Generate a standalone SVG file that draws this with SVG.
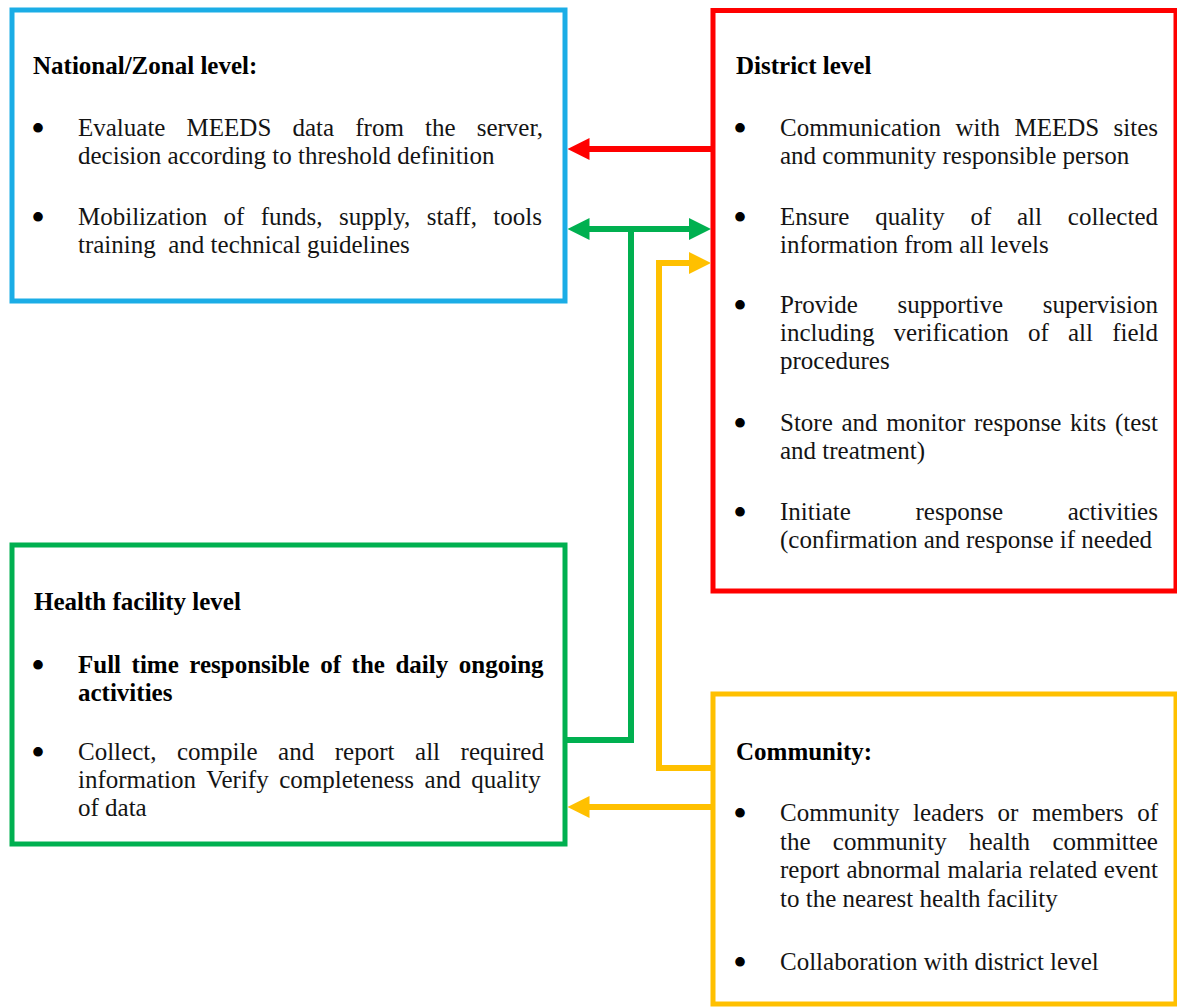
<svg xmlns="http://www.w3.org/2000/svg" width="1177" height="1007" viewBox="0 0 1177 1007">
<style>
text{font-family:"Liberation Serif","Times New Roman",serif;font-size:25px;fill:#141414}
.h{font-weight:bold;fill:#000}
.bu{text-anchor:middle;font-size:40px;fill:#000}
.box{fill:#fff;stroke-width:5}
.c{fill:none;stroke-width:6}
</style>
<defs>
<marker id="aR" markerUnits="userSpaceOnUse" markerWidth="22" markerHeight="22" refX="10" refY="11" orient="auto-start-reverse"><path d="M0,0 L22,11 L0,22 z" fill="#FF0000"/></marker>
<marker id="aG" markerUnits="userSpaceOnUse" markerWidth="22" markerHeight="22" refX="10" refY="11" orient="auto-start-reverse"><path d="M0,0 L22,11 L0,22 z" fill="#00B050"/></marker>
<marker id="aY" markerUnits="userSpaceOnUse" markerWidth="22" markerHeight="22" refX="10" refY="11" orient="auto-start-reverse"><path d="M0,0 L22,11 L0,22 z" fill="#FFC000"/></marker>
</defs>
<rect width="1177" height="1007" fill="#fff"/>

<g id="national">
<rect class="box" x="12" y="10" width="553" height="291" stroke="#1BADE6"/>
<text class="h" x="33" y="74">National/Zonal level:</text>
<text class="bu" x="38" y="142">•</text>
<text x="78" y="136" style="word-spacing:14.9px">Evaluate MEEDS data from the server,</text>
<text x="78" y="164">decision according to threshold definition</text>
<text class="bu" x="38" y="231">•</text>
<text x="78" y="225" style="word-spacing:10.15px">Mobilization of funds, supply, staff, tools</text>
<text x="78" y="253" xml:space="preserve">training  and technical guidelines</text>
</g>

<g id="district">
<rect class="box" x="713" y="10.5" width="463" height="580.5" stroke="#FF0000"/>
<text class="h" x="736" y="74">District level</text>
<text class="bu" x="740" y="142">•</text>
<text x="780" y="136" style="word-spacing:8.18px">Communication with MEEDS sites</text>
<text x="780" y="164">and community responsible person</text>
<text class="bu" x="740" y="231">•</text>
<text x="780" y="225" style="word-spacing:19.53px">Ensure quality of all collected</text>
<text x="780" y="253">information from all levels</text>
<text class="bu" x="740" y="319">•</text>
<text x="780" y="313" style="word-spacing:33.45px">Provide supportive supervision</text>
<text x="780" y="341" style="word-spacing:12.93px">including verification of all field</text>
<text x="780" y="369">procedures</text>
<text class="bu" x="740" y="437">•</text>
<text x="780" y="431" style="word-spacing:2.4px">Store and monitor response kits (test</text>
<text x="780" y="459">and treatment)</text>
<text class="bu" x="740" y="526">•</text>
<text x="780" y="520" style="word-spacing:58.45px">Initiate response activities</text>
<text x="780" y="548">(confirmation and response if needed</text>
</g>

<g id="health-facility">
<rect class="box" x="12" y="545" width="553" height="299" stroke="#00B050"/>
<text class="h" x="34" y="610">Health facility level</text>
<text class="bu" x="38" y="679">•</text>
<text class="h" x="78" y="673" style="word-spacing:4.28px">Full time responsible of the daily ongoing</text>
<text class="h" x="78" y="701">activities</text>
<text class="bu" x="38" y="766">•</text>
<text x="78" y="760" style="word-spacing:14.32px">Collect, compile and report all required</text>
<text x="78" y="788" style="word-spacing:4.36px">information Verify completeness and quality</text>
<text x="78" y="816">of data</text>
</g>

<g id="community">
<rect class="box" x="713" y="694" width="463" height="310" stroke="#FFC000"/>
<text class="h" x="736" y="760">Community:</text>
<text class="bu" x="740" y="827">•</text>
<text x="780" y="821" style="word-spacing:7.36px">Community leaders or members of</text>
<text x="780" y="849.5" style="word-spacing:16.05px">the community health committee</text>
<text x="780" y="878" style="word-spacing:0.44px">report abnormal malaria related event</text>
<text x="780" y="906.5">to the nearest health facility</text>
<text class="bu" x="740" y="976">•</text>
<text x="780" y="970">Collaboration with district level</text>
</g>

<g id="connectors">
<path class="c" stroke="#FF0000" d="M713,149 H579.5" marker-end="url(#aR)"/>
<path class="c" stroke="#00B050" d="M579.5,229 H699" marker-start="url(#aG)" marker-end="url(#aG)"/>
<path class="c" stroke="#00B050" d="M631,229 V740 H566"/>
<path class="c" stroke="#FFC000" d="M713,768 H659 V263 H699" marker-end="url(#aY)"/>
<path class="c" stroke="#FFC000" d="M713,807 H579.5" marker-end="url(#aY)"/>
</g>
</svg>
